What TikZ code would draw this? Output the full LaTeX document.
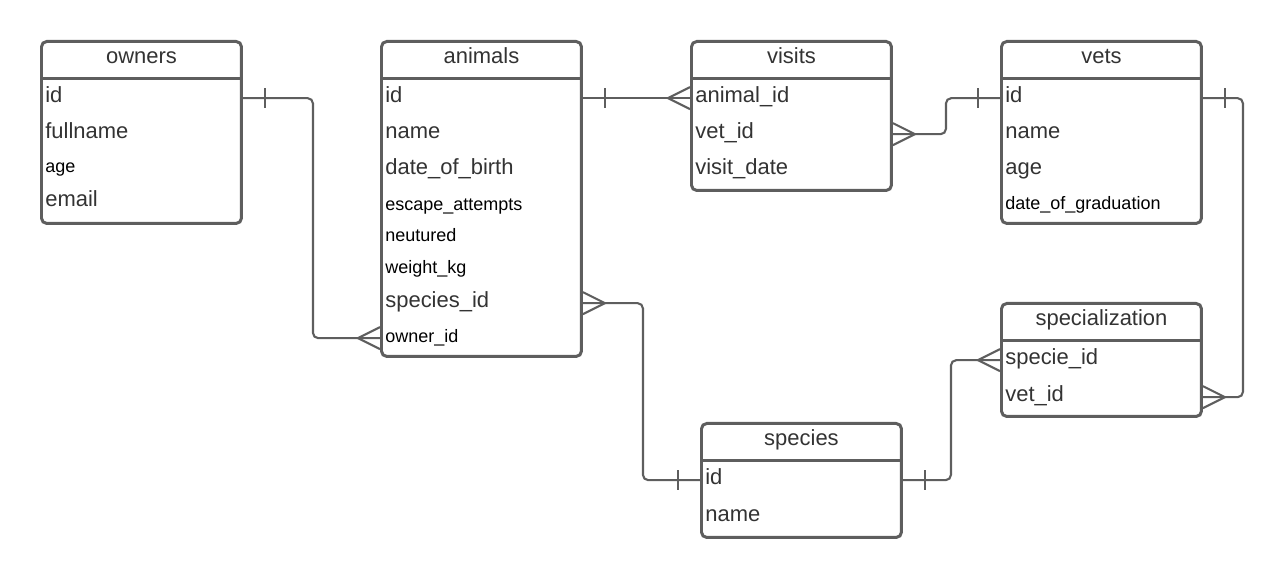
\documentclass[tikz,border=0pt]{standalone}
\usepackage{fontspec}
\setmainfont{Liberation Sans}
\usepackage{xcolor}
\usepackage{tikz}

\definecolor{linegray}{HTML}{5E5E5E}
\definecolor{txtgray}{HTML}{333333}

\tikzset{
  tbl/.style={draw=linegray, line width=1.7pt, rounded corners=3pt, minimum width=4cm, inner sep=0pt, anchor=north west},
  hdline/.style={draw=linegray, line width=1.7pt},
  hd/.style={text=txtgray, font=\fontsize{12.5}{14}\selectfont, anchor=base, inner sep=0pt},
  fld/.style={text=txtgray, font=\fontsize{12.5}{14}\selectfont, anchor=base west, inner sep=0pt, text height=8pt, text depth=2.5pt},
  fldsm/.style={fld, text=black, font=\fontsize{10.25}{12}\selectfont},
  conn/.style={draw=linegray, line width=1.2pt},
  one/.pic={\draw[conn] (22,-10) -- (22,10);},
  many/.pic={\draw[conn] (0,-11) -- (22,0) -- (0,11);},
}

\begin{document}
\begin{tikzpicture}[x=0.02cm, y=-0.02cm]
\useasboundingbox (0,0) rectangle (1282,577);

% tables
\node[tbl, minimum height=3.64cm] (owners) at (40,40) {};
\node[tbl, minimum height=6.3cm] (animals) at (380,40) {};
\node[tbl, minimum height=2.98cm] (visits) at (690,40) {};
\node[tbl, minimum height=3.64cm] (vets) at (1000,40) {};
\node[tbl, minimum height=2.26cm] (spec) at (1000,302) {};
\node[tbl, minimum height=2.28cm] (species) at (700,422) {};

% headers
\foreach \t/\name in {owners/owners, animals/animals, visits/visits, vets/vets, spec/specialization, species/species} {
  \draw[hdline] ([yshift=-0.78cm]\t.north west) -- ([yshift=-0.78cm]\t.north east);
  \node[hd] at ([yshift=-0.48cm]\t.north) {\name};
}

% owners
\node[fld] (o-id) at (45,103) {id};
\node[fld] (o-name) at (45,139) {fullname};
\node[fldsm] (o-age) at (45,173) {age};
\node[fld] (o-email) at (45,207) {email};

% animals
\node[fld] (a-id) at (385,103) {id};
\node[fld] (a-name) at (385,139) {name};
\node[fld] (a-dob) at (385,175) {date\_of\_birth};
\node[fldsm] (a-escape) at (385,211) {escape\_attempts};
\node[fldsm] (a-neut) at (385,242) {neutured};
\node[fldsm] (a-weight) at (385,274) {weight\_kg};
\node[fld] (a-species) at (385,308) {species\_id};
\node[fldsm] (a-owner) at (385,343) {owner\_id};

% visits
\node[fld] (v-animal) at (695,103) {animal\_id};
\node[fld] (v-vet) at (695,139) {vet\_id};
\node[fld] (v-date) at (695,175) {visit\_date};

% vets
\node[fld] (t-id) at (1005,103) {id};
\node[fld] (t-name) at (1005,139) {name};
\node[fld] (t-age) at (1005,175) {age};
\node[fldsm] (t-grad) at (1005,210) {date\_of\_graduation};

% specialization
\node[fld] (p-specie) at (1005,365) {specie\_id};
\node[fld] (p-vet) at (1005,402) {vet\_id};

% species
\node[fld] (s-id) at (705,485) {id};
\node[fld] (s-name) at (705,521) {name};

% relations
\draw[conn, rounded corners=3pt] (owners.east |- o-id) -- ++(70,0) |- (animals.west |- a-owner);
\pic at (owners.east |- o-id) {one};
\pic[xscale=-1] at (animals.west |- a-owner) {many};

\draw[conn] (animals.east |- a-id) -- (visits.west |- v-animal);
\pic at (animals.east |- a-id) {one};
\pic[xscale=-1] at (visits.west |- v-animal) {many};

\draw[conn, rounded corners=3pt] (visits.east |- v-vet) -- ++(53,0) |- (vets.west |- t-id);
\pic at (visits.east |- v-vet) {many};
\pic[xscale=-1] at (vets.west |- t-id) {one};

\draw[conn, rounded corners=3pt] (animals.east |- a-species) -- ++(60,0) |- (species.west |- s-id);
\pic at (animals.east |- a-species) {many};
\pic[xscale=-1] at (species.west |- s-id) {one};

\draw[conn, rounded corners=3pt] (species.east |- s-id) -- ++(48,0) |- (spec.west |- p-specie);
\pic at (species.east |- s-id) {one};
\pic[xscale=-1] at (spec.west |- p-specie) {many};

\draw[conn, rounded corners=3pt] (vets.east |- t-id) -- ++(40,0) |- (spec.east |- p-vet);
\pic at (vets.east |- t-id) {one};
\pic at (spec.east |- p-vet) {many};
\end{tikzpicture}
\end{document}
